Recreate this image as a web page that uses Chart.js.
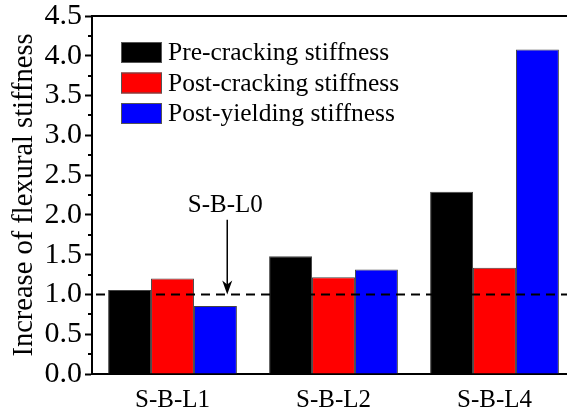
<!DOCTYPE html>
<html>
<head>
<meta charset="utf-8">
<script src="https://cdn.jsdelivr.net/npm/chart.js@4/dist/chart.umd.min.js"></script>
<style>
  html, body { margin: 0; padding: 0; background: #fff; overflow: hidden; }
  #wrap { width: 578px; height: 416px; }
</style>
</head>
<body>
<div id="wrap"><canvas id="c" width="578" height="416"></canvas></div>
<script>
// Specimens and measured stiffness increase ratios (relative to S-B-L0)
const categories = ['S-B-L1', 'S-B-L2', 'S-B-L4'];
const seriesNames = ['Pre-cracking stiffness', 'Post-cracking stiffness', 'Post-yielding stiffness'];
const preCracking = [1.055, 1.48, 2.29];
const postCracking = [1.20, 1.215, 1.335];
const postYielding = [0.855, 1.315, 4.08];
const seriesColors = ['#000000', '#ff0000', '#0000ff'];

// Reference level of the control beam
const referenceValue = 1.0;
const referenceLabel = 'S-B-L0';

const yMin = 0, yMax = 4.5, yStep = 0.5;
const yTitle = 'Increase of flexural stiffness';

const SERIF = '"Liberation Serif", "Times New Roman", serif';

// Frame, minor ticks, reference line, annotation and legend
const decorations = {
  id: 'decorations',
  afterDatasetsDraw(chart) {
    const { ctx, chartArea: a, scales: { x, y } } = chart;
    ctx.save();
    // reference dashed line
    const yr = y.getPixelForValue(referenceValue);
    ctx.strokeStyle = '#000';
    ctx.lineWidth = 2;
    ctx.setLineDash([9, 6]);
    ctx.beginPath();
    ctx.moveTo(a.left + 4, yr);
    ctx.lineTo(a.right, yr);
    ctx.stroke();
    ctx.setLineDash([]);

    // annotation arrow pointing to reference line
    const x0 = x.getPixelForValue(0), x1 = x.getPixelForValue(1);
    const ax = x0 + (x1 - x0) * 0.34;
    const yTop = y.getPixelForValue(1.94);
    ctx.lineWidth = 1.5;
    ctx.beginPath();
    ctx.moveTo(ax, yTop);
    ctx.lineTo(ax, yr - 6);
    ctx.stroke();
    ctx.fillStyle = '#000';
    ctx.beginPath();
    ctx.moveTo(ax, yr);
    ctx.lineTo(ax - 5, yr - 14);
    ctx.lineTo(ax, yr - 10);
    ctx.lineTo(ax + 5, yr - 14);
    ctx.closePath();
    ctx.fill();

    ctx.font = '25px ' + SERIF;
    ctx.textAlign = 'center';
    ctx.textBaseline = 'middle';
    ctx.fillText(referenceLabel, ax - 2, y.getPixelForValue(2.12));

    // top frame line
    ctx.lineWidth = 2;
    ctx.beginPath();
    ctx.moveTo(a.left - 1, a.top);
    ctx.lineTo(a.right + 2, a.top);
    ctx.stroke();

    // minor ticks on the y axis
    ctx.lineWidth = 2;
    for (let v = yMin + yStep / 2; v < yMax; v += yStep) {
      const py = Math.round(y.getPixelForValue(v));
      ctx.beginPath();
      ctx.moveTo(a.left, py);
      ctx.lineTo(a.left - 4, py);
      ctx.stroke();
    }

    // legend inside plot
    const bx = a.left + 29, by = a.top + 26, bw = 41, bh = 21, gap = 30.5;
    ctx.font = '25.5px ' + SERIF;
    ctx.textAlign = 'left';
    ctx.textBaseline = 'middle';
    chart.data.datasets.forEach((ds, i) => {
      const top = by + i * gap;
      ctx.fillStyle = ds.backgroundColor;
      ctx.fillRect(bx, top, bw, bh);
      ctx.strokeStyle = '#555';
      ctx.lineWidth = 1;
      ctx.strokeRect(bx + 0.5, top + 0.5, bw - 1, bh - 1);
      ctx.fillStyle = '#000';
      ctx.fillText(ds.label, bx + bw + 6, top + bh / 2 + 1);
    });
    ctx.restore();
  }
};

const values = [preCracking, postCracking, postYielding];

new Chart(document.getElementById('c'), {
  type: 'bar',
  data: {
    labels: categories,
    datasets: seriesNames.map((name, i) => ({
      label: name,
      data: values[i],
      backgroundColor: seriesColors[i],
      borderColor: '#444',
      borderWidth: 1,
      categoryPercentage: 0.8,
      barPercentage: 1.0
    }))
  },
  options: {
    responsive: false,
    animation: false,
    layout: { padding: { top: 16, right: 3, left: 0, bottom: 0 } },
    plugins: { legend: { display: false }, tooltip: { enabled: false } },
    scales: {
      x: {
        grid: { display: false, drawTicks: false },
        border: { color: '#000', width: 2 },
        ticks: { color: '#000', font: { family: SERIF, size: 25 }, padding: 11 },
        afterFit(s) { s.height = 42; s.paddingLeft = 0; s.paddingRight = 0; }
      },
      y: {
        min: yMin, max: yMax,
        grid: { drawOnChartArea: false, tickLength: 7, tickWidth: 2, tickColor: '#000' },
        border: { color: '#000', width: 2 },
        ticks: {
          stepSize: yStep, color: '#000', padding: 3,
          font: { family: SERIF, size: 30 },
          callback: v => Number(v).toFixed(1)
        },
        title: {
          display: true, text: yTitle, color: '#000',
          font: { family: SERIF, size: 28.5 },
          padding: { top: 7, bottom: 0 }
        },
        afterFit(s) { s.width = 92; s.paddingTop = 0; s.paddingBottom = 0; }
      }
    }
  },
  plugins: [decorations]
});
</script>
</body>
</html>
